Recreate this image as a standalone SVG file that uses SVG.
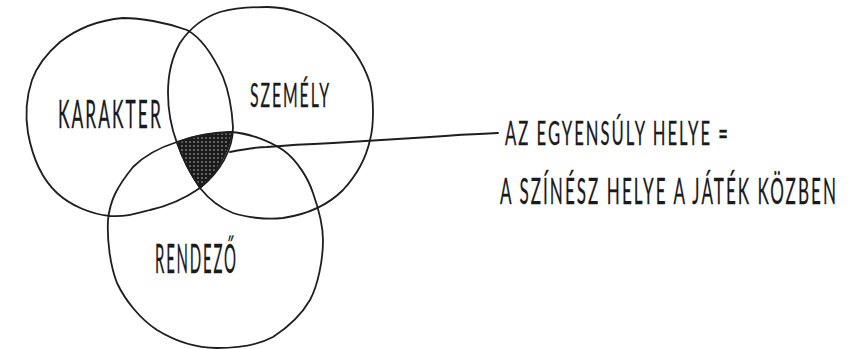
<svg xmlns="http://www.w3.org/2000/svg" width="862" height="349" viewBox="0 0 862 349">
<style>
.ring{fill:none;stroke:#1e1e1e;stroke-width:1.8;stroke-linejoin:round;stroke-linecap:round}
.lbl{font-family:Lato,"Open Sans","Liberation Sans",sans-serif;font-weight:400;fill:#1a1a1a;stroke:#1a1a1a;stroke-width:0.3;letter-spacing:0.12em}
</style>
<defs>
<pattern id="dots" width="4" height="4" patternUnits="userSpaceOnUse">
<rect width="4" height="4" fill="#1a1a1a"/>
<circle cx="2" cy="2" r="0.8" fill="#bdbdbd"/>
</pattern>
</defs>
<rect width="862" height="349" fill="#fff"/>
<g id="shade">
<path d="M177,142 C190,137 210,133 232,132 C228,155 215,175 200,188 C191,175 182,158 177,142 Z" fill="url(#dots)" stroke="#1e1e1e" stroke-width="1.5"/>
</g>
<g id="karakter">
<path class="ring" d="M123,18 C140,18 165,22 187,30 C200,37 213,55 223,77 C229,92 232,110 233,127 C233,150 220,172 200,188 C187,197 168,206 150,210 C135,214 125,217 110,216 C90,214 70,205 57,193 C43,180 33,160 28,133 C25,115 27,95 32,80 C37,66 45,55 60,42 C78,28 100,20 123,18 Z"/>
<text class="lbl" transform="translate(58,128) scale(0.45,1)" font-size="39" textLength="233" lengthAdjust="spacingAndGlyphs">KARAKTER</text>
</g>
<g id="szemely">
<path class="ring" d="M267,7 C290,7 315,16 333,30 C350,43 363,62 370,83 C374,100 374,125 370,140 C366,158 356,176 343,190 C330,203 310,214 283,218 C265,220 245,217 233,213 C220,208 208,198 200,188 C192,176 183,160 177,143 C171,127 168,110 168,93 C168,75 172,57 180,43 C190,28 205,17 220,12 C235,8 252,7 267,7 Z"/>
<text class="lbl" transform="translate(250,107) scale(0.45,1)" font-size="32" textLength="180" lengthAdjust="spacingAndGlyphs">SZEMÉLY</text>
</g>
<g id="rendezo">
<path class="ring" d="M177,142 C195,136 213,132 230,132 C248,133 268,140 283,150 C297,160 308,178 313,193 C319,210 323,225 323,240 C323,260 318,285 310,300 C303,312 290,326 273,337 C260,344 240,348 217,348 C197,348 175,341 157,330 C140,319 125,300 117,283 C110,265 107,240 108,220 C110,200 117,187 133,167 C143,157 158,148 177,142 Z"/>
<text class="lbl" transform="translate(155,273) scale(0.45,1)" font-size="41" textLength="184" lengthAdjust="spacingAndGlyphs">RENDEZŐ</text>
</g>
<g id="connectors">
<path class="ring" d="M230,152 C245,149 258,147 267,147 C290,145 310,144 333,143 C370,141 400,139 430,137 C455,135 475,134 498,133"/>
</g>
<g id="callout">
<text class="lbl" transform="translate(505,145) scale(0.45,1)" font-size="33" textLength="500" lengthAdjust="spacingAndGlyphs">AZ EGYENSÚLY HELYE =</text>
<text class="lbl" transform="translate(500,204) scale(0.45,1)" font-size="37" textLength="751" lengthAdjust="spacingAndGlyphs">A SZÍNÉSZ HELYE A JÁTÉK KÖZBEN</text>
</g>
</svg>
